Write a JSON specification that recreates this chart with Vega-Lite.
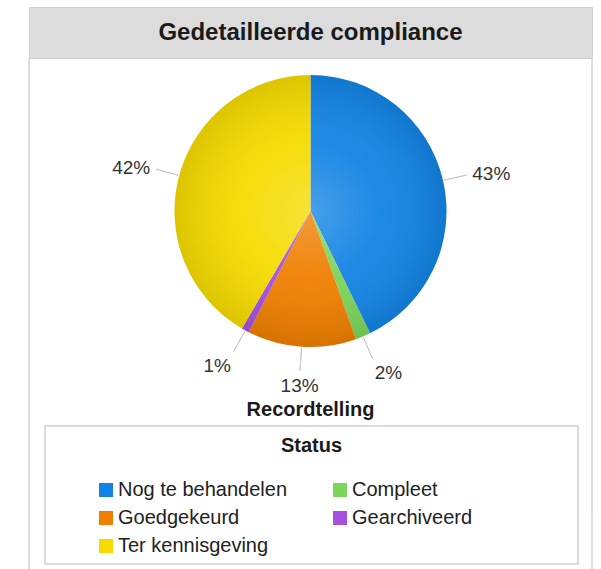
{
  "$schema": "https://vega.github.io/schema/vega-lite/v6.json",
  "padding": {"left": 28, "top": 6, "right": 0, "bottom": 0},
  "background": "white",
  "spacing": 0,
  "bounds": "flush",
  "config": {
    "font": "Liberation Sans",
    "view": {"stroke": null}
  },
  "datasets": {
    "status": [
      {"status": "Nog te behandelen", "value": 43.0, "pct": "43%", "rank": 1},
      {"status": "Compleet", "value": 1.8, "pct": "2%", "rank": 2},
      {"status": "Goedgekeurd", "value": 13.0, "pct": "13%", "rank": 3},
      {"status": "Gearchiveerd", "value": 0.9, "pct": "1%", "rank": 4},
      {"status": "Ter kennisgeving", "value": 41.8, "pct": "42%", "rank": 5}
    ],
    "header": [{"title": "Gedetailleerde compliance"}],
    "whole": [{"share": 1}]
  },
  "resolve": {"scale": {"color": "independent"}, "legend": {"color": "independent"}},
  "vconcat": [
    {
      "width": 563,
      "height": 51,
      "view": {"fill": "#dcdcdc", "stroke": "#cfcfcf"},
      "data": {"name": "header"},
      "mark": {"type": "text", "fontSize": 24, "fontWeight": "bold", "color": "#1a1a1a"},
      "encoding": {"text": {"field": "title", "type": "nominal"}}
    },
    {
      "width": 563,
      "height": 306,
      "view": {"stroke": "#d4d4d4", "strokeWidth": 1.5, "strokeDash": [0, 563, 306, 563, 306]},
      "data": {"name": "status"},
      "resolve": {"scale": {"theta": "independent"}},
      "layer": [
        {
          "mark": {"type": "arc", "radius": 136},
          "encoding": {
            "theta": {"field": "value", "type": "quantitative", "stack": true},
            "order": {"field": "rank", "type": "quantitative"},
            "color": {
              "field": "status",
              "type": "nominal",
              "scale": {
                "domain": ["Nog te behandelen", "Compleet", "Goedgekeurd", "Gearchiveerd", "Ter kennisgeving"],
                "range": ["#1384e4", "#7bd55b", "#ef7f00", "#a64fe0", "#f5db00"]
              },
              "legend": null
            }
          }
        },
        {
          "data": {"name": "whole"},
          "mark": {
            "type": "arc",
            "radius": 136,
            "fill": {
              "gradient": "radial",
              "x1": 0.5, "y1": 0.5, "r1": 0,
              "x2": 0.5, "y2": 0.5, "r2": 0.5,
              "stops": [
                {"offset": 0, "color": "rgba(255,255,255,0.22)"},
                {"offset": 0.5, "color": "rgba(255,255,255,0.05)"},
                {"offset": 1, "color": "rgba(0,0,0,0.1)"}
              ]
            }
          },
          "encoding": {
            "theta": {"field": "share", "type": "quantitative", "stack": true}
          }
        },
        {
          "mark": {"type": "arc", "radius": 160, "radius2": 137, "padAngle": 3.1, "fill": "transparent", "stroke": "#c8c8c8", "strokeWidth": 1},
          "encoding": {
            "theta": {"field": "value", "type": "quantitative", "stack": true},
            "order": {"field": "rank", "type": "quantitative"}
          }
        },
        {
          "mark": {
            "type": "text",
            "radius": 166,
            "fontSize": 19,
            "color": "#333333",
            "align": {"expr": "datum.rank <= 2 ? 'left' : datum.rank == 3 ? 'center' : 'right'"},
            "baseline": {"expr": "datum.rank >= 2 && datum.rank <= 4 ? 'top' : 'middle'"}
          },
          "encoding": {
            "theta": {"field": "value", "type": "quantitative", "stack": true},
            "order": {"field": "rank", "type": "quantitative"},
            "text": {"field": "pct", "type": "nominal"}
          }
        }
      ]
    },
    {
      "width": 563,
      "height": 62,
      "view": {"stroke": "#d4d4d4", "strokeWidth": 1.5, "strokeDash": [0, 563, 62, 563, 62]},
      "title": {"text": "Recordtelling", "orient": "bottom", "anchor": "middle", "frame": "group", "offset": -6, "baseline": "bottom", "fontSize": 20, "fontWeight": "bold", "color": "#1a1a1a"},
      "data": {"name": "whole"},
      "mark": {"type": "text", "text": ""}
    },
    {
      "spacing": 0,
      "bounds": "flush",
      "resolve": {"scale": {"color": "independent"}, "legend": {"color": "independent"}},
      "hconcat": [
        {
          "width": 16,
          "height": 144,
          "view": {"stroke": "#d4d4d4", "strokeWidth": 1.5, "strokeDash": [0, 176, 144]},
          "data": {"name": "whole"},
          "mark": {"type": "text", "text": ""}
        },
        {
          "width": 533,
          "height": 138,
          "view": {"stroke": "#cfcfcf", "strokeWidth": 1.5},
          "title": {"text": "Status", "orient": "bottom", "anchor": "middle", "frame": "group", "offset": -118.5, "baseline": "middle", "fontSize": 20, "fontWeight": "bold", "color": "#1a1a1a"},
          "data": {"name": "status"},
          "mark": {"type": "text", "text": ""},
          "encoding": {
            "color": {
              "field": "status",
              "type": "nominal",
              "scale": {
                "domain": ["Nog te behandelen", "Compleet", "Goedgekeurd", "Gearchiveerd", "Ter kennisgeving"],
                "range": ["#1384e4", "#7bd55b", "#ef7f00", "#a64fe0", "#f5db00"]
              },
              "legend": {
                "title": null,
                "orient": "none",
                "direction": "horizontal",
                "legendX": 51,
                "legendY": 54,
                "columns": 2,
                "gridAlign": "all",
                "columnPadding": 42,
                "rowPadding": 8,
                "padding": 0,
                "symbolType": "square",
                "symbolSize": 196,
                "symbolStrokeWidth": 0,
                "symbolOpacity": 1,
                "labelFontSize": 20,
                "labelColor": "#222222",
                "labelOffset": 2,
                "labelLimit": 400
              }
            }
          }
        },
        {
          "width": 14,
          "height": 144,
          "view": {"stroke": "#d4d4d4", "strokeWidth": 1.5, "strokeDash": [0, 14, 144, 158]},
          "data": {"name": "whole"},
          "mark": {"type": "text", "text": ""}
        }
      ]
    }
  ]
}
